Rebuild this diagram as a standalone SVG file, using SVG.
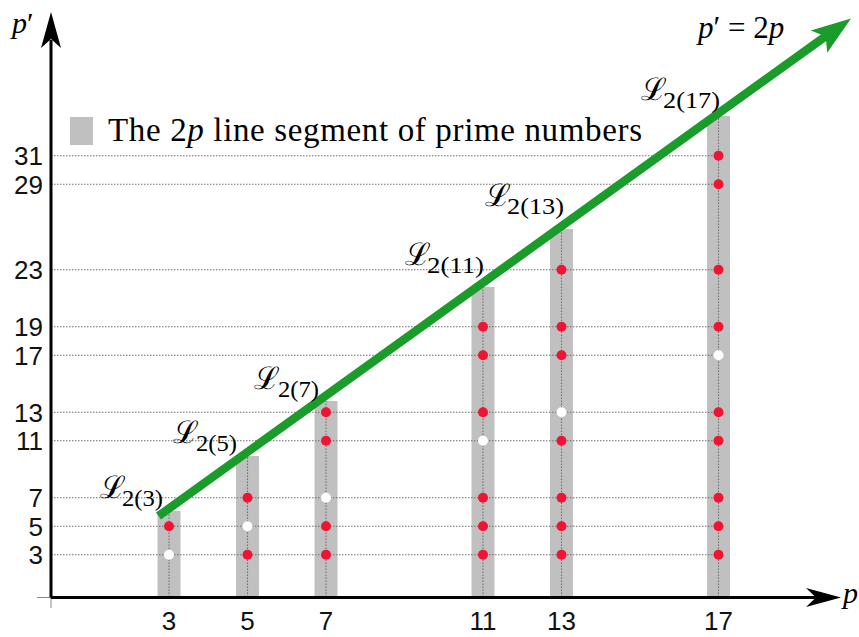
<svg xmlns="http://www.w3.org/2000/svg" width="859" height="637" viewBox="0 0 859 637">
<style>
.bar{fill:#c0c0c0}
.grid{stroke:#6e6e6e;stroke-width:1.1;stroke-dasharray:1.5 1.5;fill:none}
.red{fill:#ef1532}
.wht{fill:#ffffff}
.tick{font-family:"Liberation Sans",Arial,sans-serif;font-size:26px;fill:#111}
.math{font-family:"Liberation Serif","Times New Roman",serif;font-size:30px;fill:#000}
.it{font-style:italic}
.cal{font-family:"DejaVu Serif",serif;font-size:31px;fill:#000}
.sub{font-family:"Liberation Serif","Times New Roman",serif;font-size:23px;fill:#000}
.axis{stroke:#000;stroke-width:3;fill:none}
.thin{stroke:#888;stroke-width:1;fill:none}
</style>

<!-- bars -->
<g id="bars">
<rect class="bar" x="157.5" y="511" width="23" height="86.5"/>
<rect class="bar" x="236" y="456" width="23" height="141.5"/>
<rect class="bar" x="314.5" y="401" width="23" height="196.5"/>
<rect class="bar" x="471.5" y="287" width="23" height="310.5"/>
<rect class="bar" x="550" y="229" width="23" height="368.5"/>
<rect class="bar" x="707" y="116" width="23" height="481.5"/>
</g>

<!-- grid -->
<g id="grid">
<line class="grid" x1="51" y1="554.75" x2="718.5" y2="554.75"/>
<line class="grid" x1="51" y1="526.25" x2="718.5" y2="526.25"/>
<line class="grid" x1="51" y1="497.75" x2="718.5" y2="497.75"/>
<line class="grid" x1="51" y1="440.75" x2="718.5" y2="440.75"/>
<line class="grid" x1="51" y1="412.25" x2="718.5" y2="412.25"/>
<line class="grid" x1="51" y1="355.25" x2="718.5" y2="355.25"/>
<line class="grid" x1="51" y1="326.75" x2="718.5" y2="326.75"/>
<line class="grid" x1="51" y1="269.75" x2="718.5" y2="269.75"/>
<line class="grid" x1="51" y1="184.25" x2="718.5" y2="184.25"/>
<line class="grid" x1="51" y1="155.75" x2="718.5" y2="155.75"/>
<line class="grid" x1="169" y1="597" x2="169" y2="511"/>
<line class="grid" x1="247.5" y1="597" x2="247.5" y2="456"/>
<line class="grid" x1="326" y1="597" x2="326" y2="401"/>
<line class="grid" x1="483" y1="597" x2="483" y2="287"/>
<line class="grid" x1="561.5" y1="597" x2="561.5" y2="229"/>
<line class="grid" x1="718.5" y1="597" x2="718.5" y2="113"/>
</g>

<!-- dots -->
<g id="col-3">
<circle class="wht" cx="169" cy="554.75" r="5"/>
<circle class="red" cx="169" cy="526.25" r="5"/>
</g>
<g id="col-5">
<circle class="red" cx="247.5" cy="554.75" r="5"/>
<circle class="wht" cx="247.5" cy="526.25" r="5"/>
<circle class="red" cx="247.5" cy="497.75" r="5"/>
</g>
<g id="col-7">
<circle class="red" cx="326" cy="554.75" r="5"/>
<circle class="red" cx="326" cy="526.25" r="5"/>
<circle class="wht" cx="326" cy="497.75" r="5"/>
<circle class="red" cx="326" cy="440.75" r="5"/>
<circle class="red" cx="326" cy="412.25" r="5"/>
</g>
<g id="col-11">
<circle class="red" cx="483" cy="554.75" r="5"/>
<circle class="red" cx="483" cy="526.25" r="5"/>
<circle class="red" cx="483" cy="497.75" r="5"/>
<circle class="wht" cx="483" cy="440.75" r="5"/>
<circle class="red" cx="483" cy="412.25" r="5"/>
<circle class="red" cx="483" cy="355.25" r="5"/>
<circle class="red" cx="483" cy="326.75" r="5"/>
</g>
<g id="col-13">
<circle class="red" cx="561.5" cy="554.75" r="5"/>
<circle class="red" cx="561.5" cy="526.25" r="5"/>
<circle class="red" cx="561.5" cy="497.75" r="5"/>
<circle class="red" cx="561.5" cy="440.75" r="5"/>
<circle class="wht" cx="561.5" cy="412.25" r="5"/>
<circle class="red" cx="561.5" cy="355.25" r="5"/>
<circle class="red" cx="561.5" cy="326.75" r="5"/>
<circle class="red" cx="561.5" cy="269.75" r="5"/>
</g>
<g id="col-17">
<circle class="red" cx="718.5" cy="554.75" r="5"/>
<circle class="red" cx="718.5" cy="526.25" r="5"/>
<circle class="red" cx="718.5" cy="497.75" r="5"/>
<circle class="red" cx="718.5" cy="440.75" r="5"/>
<circle class="red" cx="718.5" cy="412.25" r="5"/>
<circle class="wht" cx="718.5" cy="355.25" r="5"/>
<circle class="red" cx="718.5" cy="326.75" r="5"/>
<circle class="red" cx="718.5" cy="269.75" r="5"/>
<circle class="red" cx="718.5" cy="184.25" r="5"/>
<circle class="red" cx="718.5" cy="155.75" r="5"/>
</g>

<!-- connectors: axes and 2p line -->
<g id="connectors">
<line class="thin" x1="37" y1="597.5" x2="51" y2="597.5"/>
<line class="thin" x1="51" y1="597.5" x2="51" y2="608"/>
<line class="axis" x1="51" y1="597.5" x2="816" y2="597.5"/>
<path d="M841,597.5 L806,588 L816,597.5 L806,607 Z" fill="#000"/>
<line class="axis" x1="51" y1="597.5" x2="51" y2="40"/>
<path d="M51,12 L41,48 L51,39 L61,48 Z" fill="#000"/>
<line x1="158.5" y1="516" x2="826" y2="36" stroke="#1a9c2a" stroke-width="8.5"/>
<path d="M851,18.5 L810.8,30.4 L825.7,36.6 L827.2,52.7 Z" fill="#1a9c2a"/>
</g>

<!-- tick labels -->
<g id="yticks" class="tick" text-anchor="end">
<text x="43" y="564.25">3</text>
<text x="43" y="535.75">5</text>
<text x="43" y="507.25">7</text>
<text x="43" y="450.25">11</text>
<text x="43" y="421.75">13</text>
<text x="43" y="364.75">17</text>
<text x="43" y="336.25">19</text>
<text x="43" y="279.25">23</text>
<text x="43" y="193.75">29</text>
<text x="43" y="165.25">31</text>
</g>
<g id="xticks" class="tick" text-anchor="middle">
<text x="169" y="630">3</text>
<text x="247.5" y="630">5</text>
<text x="326" y="630">7</text>
<text x="483" y="630">11</text>
<text x="561.5" y="630">13</text>
<text x="718.5" y="630">17</text>
</g>

<!-- axis labels -->
<g id="label-pprime"><text class="math" x="12" y="33"><tspan class="it">p</tspan>′</text></g>
<g id="label-p"><text class="math it" x="843" y="603">p</text></g>
<g id="label-eq"><text class="math" x="698" y="38" style="font-size:31px"><tspan class="it">p</tspan>′ = 2<tspan class="it">p</tspan></text></g>

<!-- legend -->
<g id="legend">
<rect class="bar" x="70" y="117" width="23" height="28"/>
<text class="math" x="108" y="141" style="font-size:33px" textLength="534" lengthAdjust="spacing">The 2<tspan class="it">p</tspan> line segment of prime numbers</text>
</g>

<!-- L labels -->
<g id="L3"><text class="cal" x="100" y="498">ℒ</text><text class="sub" x="122" y="506" textLength="41" lengthAdjust="spacingAndGlyphs">2(3)</text></g>
<g id="L5"><text class="cal" x="173" y="443">ℒ</text><text class="sub" x="196" y="451" textLength="41" lengthAdjust="spacingAndGlyphs">2(5)</text></g>
<g id="L7"><text class="cal" x="254" y="389">ℒ</text><text class="sub" x="278" y="397" textLength="41" lengthAdjust="spacingAndGlyphs">2(7)</text></g>
<g id="L11"><text class="cal" x="405" y="265">ℒ</text><text class="sub" x="427" y="273" textLength="57" lengthAdjust="spacingAndGlyphs">2(11)</text></g>
<g id="L13"><text class="cal" x="485" y="206">ℒ</text><text class="sub" x="507" y="214" textLength="57" lengthAdjust="spacingAndGlyphs">2(13)</text></g>
<g id="L17"><text class="cal" x="641" y="100">ℒ</text><text class="sub" x="663" y="108" textLength="57" lengthAdjust="spacingAndGlyphs">2(17)</text></g>
</svg>
